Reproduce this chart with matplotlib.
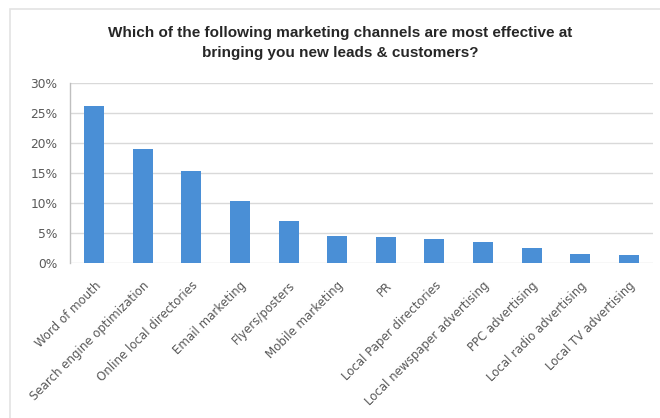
import matplotlib.pyplot as plt
from matplotlib.patches import Rectangle
from matplotlib.ticker import FuncFormatter

# ------------------ DATA ------------------
CHANNELS = [
    'Word of mouth', 'Search engine optimization', 'Online local directories',
    'Email marketing', 'Flyers/posters', 'Mobile marketing', 'PR',
    'Local Paper directories', 'Local newspaper advertising', 'PPC advertising',
    'Local radio advertising', 'Local TV advertising'
]
SHARE = [26.3, 19.1, 15.3, 10.3, 7.0, 4.5, 4.3, 3.9, 3.5, 2.4, 1.5, 1.3]
Y_TICKS = [0, 5, 10, 15, 20, 25, 30]

TITLE = ("Which of the following marketing channels are most effective at\n"
         "bringing you new leads & customers?")

BAR_COLOR = '#4a8fd6'
TEXT_COLOR = '#595959'
GRID_COLOR = '#d9d9d9'

plt.rcParams['font.family'] = ['DejaVu Sans']

# ------------------ PLOT ------------------
fig = plt.figure(figsize=(6.6, 4.18), dpi=100)
fig.patch.set_facecolor('white')

# chart frame (the Excel chart area border)
fig.patches.append(Rectangle((10 / 660, -0.01), 1.0, 1 - 9 / 418 + 0.01,
                             transform=fig.transFigure, fill=False,
                             edgecolor='#e3e3e3', linewidth=1.2))

ax = fig.add_axes([70 / 660, 1 - 262.5 / 418, (653 - 70) / 660, (262.5 - 83.5) / 418])
x = range(len(CHANNELS))
ax.bar(x, SHARE, width=0.41, color=BAR_COLOR, zorder=3)

ax.set_xlim(-0.5, len(CHANNELS) - 0.5)
ax.set_ylim(0, 30)
ax.set_yticks(Y_TICKS)
ax.yaxis.set_major_formatter(FuncFormatter(lambda v, _: f"{v:.0f}%"))
ax.grid(axis='y', color=GRID_COLOR, linewidth=1.0, zorder=0)

ax.set_xticks(list(x))
ax.set_xticklabels(CHANNELS, rotation=45, ha='right', rotation_mode='anchor',
                   fontsize=8.5, color=TEXT_COLOR)
ax.tick_params(axis='x', length=0, pad=12)
ax.tick_params(axis='y', length=0, labelsize=8.8, labelcolor=TEXT_COLOR, pad=9)

for side in ['top', 'right', 'bottom']:
    ax.spines[side].set_visible(False)
ax.spines['left'].set_color('#bfbfbf')
ax.spines['left'].set_linewidth(1.0)

fig.text(340 / 660, 1 - 43 / 418, TITLE, ha='center', va='center', fontsize=11,
         fontweight='bold', family='Liberation Sans', color='#262626',
         linespacing=1.5)

fig.savefig('out.png', dpi=100)
